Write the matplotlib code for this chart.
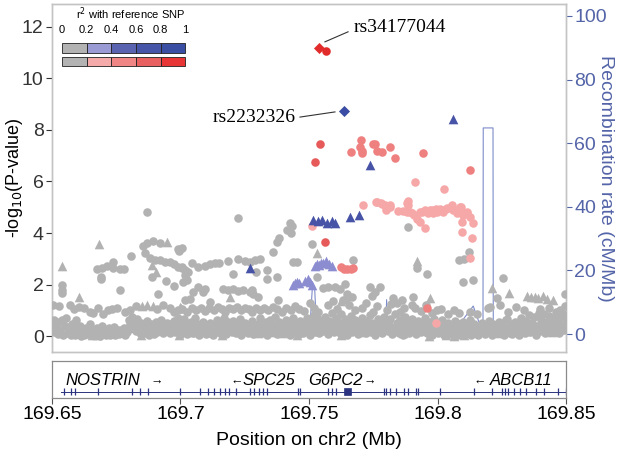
import numpy as np
import matplotlib
matplotlib.use("Agg")
import matplotlib.pyplot as plt
from matplotlib.patches import Rectangle

plt.rcParams['font.family'] = ['Liberation Sans', 'DejaVu Sans']

# ---- data (Mb, -log10 P) ----
lead_red = (169.7539, 11.18)      # rs34177044
lead_blue = (169.7636, 8.74)      # rs2232326

red_top = [(169.7566, 11.07)]
red_08 = [(169.7543, 7.46), (169.7523, 6.76), (169.7562, 3.65)]
red_06 = [(169.7663, 7.15), (169.7702, 7.61), (169.7700, 7.34), (169.7706, 7.18), (169.7706, 7.10),
          (169.7749, 7.46), (169.7757, 7.46), (169.7765, 7.18), (169.7784, 7.15), (169.7815, 7.34),
          (169.7835, 6.91), (169.7944, 7.10), (169.8125, 6.45),
          (169.7624, 2.68), (169.7635, 2.62), (169.7648, 2.60), (169.7662, 2.60), (169.7672, 2.66),
          (169.7959, 1.09)]
red_04 = [(169.7710, 5.09), (169.7765, 5.20), (169.7784, 5.13), (169.7800, 5.00), (169.7815, 5.09),
          (169.7800, 4.89), (169.7846, 4.85), (169.7866, 4.85), (169.7885, 5.24), (169.7885, 5.09),
          (169.7880, 4.82), (169.7900, 4.78), (169.7910, 4.70), (169.7920, 4.54), (169.7932, 4.43),
          (169.7951, 4.19), (169.7940, 4.82), (169.7963, 4.78), (169.7978, 4.89), (169.7982, 4.78),
          (169.7998, 4.82), (169.8010, 4.93), (169.8021, 4.82), (169.8037, 4.97), (169.8056, 5.09),
          (169.8060, 4.89), (169.8076, 4.78), (169.8088, 5.00), (169.8095, 4.82), (169.8100, 4.70),
          (169.8115, 4.78), (169.8127, 4.62), (169.8095, 4.43), (169.8138, 4.39), (169.8095, 4.04),
          (169.8134, 3.80), (169.8127, 3.03), (169.7512, 4.27), (169.7912, 5.98), (169.8025, 5.71),
          (169.7994, 0.50), (169.7761, 5.22), (169.7779, 5.18), (169.7796, 5.09), (169.7815, 5.02),
          (169.7882, 5.15), (169.7893, 4.82), (169.7932, 4.82), (169.7951, 4.89), (169.7970, 4.91),
          (169.7996, 4.95), (169.8016, 4.89), (169.8035, 4.95), (169.8054, 5.02), (169.8074, 4.91),
          (169.8093, 4.99), (169.8113, 4.82), (169.8099, 4.70)]

blue_tri = [(169.8060, 8.43), (169.7737, 6.64), (169.7270, 2.64), (169.7516, 4.50), (169.7535, 4.45),
            (169.7551, 4.50), (169.7570, 4.40), (169.7588, 4.45), (169.7603, 4.40), (169.7660, 4.62),
            (169.7693, 4.70)]
purple_tri = [(169.7438, 2.00), (169.7445, 2.05), (169.7453, 2.10), (169.7461, 2.05), (169.7485, 2.15),
              (169.7496, 2.20), (169.7505, 2.10), (169.7512, 2.00), (169.7523, 2.70), (169.7531, 2.80),
              (169.7539, 2.75), (169.7547, 2.85), (169.7555, 2.85), (169.7566, 2.90), (169.7578, 2.80),
              (169.7590, 2.70)]

gray_high = [(169.6868, 4.83), (169.6538, 1.98), (169.6538, 1.79), (169.6538, 1.67), (169.6674, 2.59),
             (169.6693, 2.63), (169.6713, 2.72), (169.6739, 2.89), (169.6739, 2.63), (169.6765, 2.59),
             (169.6780, 2.59), (169.6690, 2.29), (169.6692, 2.21), (169.6765, 1.79), (169.6807, 3.11),
             (169.6853, 3.50), (169.6868, 3.62), (169.6892, 3.69), (169.6920, 3.62), (169.6862, 3.21),
             (169.6881, 3.02), (169.6901, 2.95), (169.6920, 2.95), (169.6940, 2.89), (169.6959, 2.89),
             (169.6975, 2.80), (169.6991, 2.69), (169.7005, 2.63), (169.6990, 3.36), (169.6993, 3.30),
             (169.6888, 2.30), (169.6944, 2.15), (169.6975, 1.94), (169.6914, 1.63), (169.7011, 2.11),
             (169.7225, 4.57), (169.7426, 4.38), (169.7433, 4.27), (169.7413, 4.12), (169.7429, 3.99),
             (169.7385, 3.79), (169.7374, 3.66), (169.7359, 3.27), (169.7439, 2.89), (169.7454, 2.89),
             (169.7510, 3.57), (169.7005, 3.40), (169.7044, 2.82), (169.7069, 2.69), (169.7095, 2.72),
             (169.7115, 2.80), (169.7134, 2.85), (169.7151, 2.82), (169.7186, 2.92), (169.7225, 2.98),
             (169.7251, 2.92), (169.7270, 2.89), (169.7290, 2.95), (169.7309, 2.98), (169.7005, 2.69),
             (169.7018, 2.56), (169.7030, 2.50), (169.7018, 2.37), (169.7024, 2.17), (169.7205, 2.41),
             (169.7294, 2.50), (169.7338, 2.56), (169.7338, 2.20), (169.7377, 2.28), (169.7069, 1.89),
             (169.7050, 1.72), (169.7089, 1.72), (169.7095, 1.81), (169.7167, 1.81), (169.7186, 1.79),
             (169.7205, 1.81), (169.7225, 1.76), (169.7244, 1.79), (169.7270, 1.72), (169.7283, 1.63),
             (169.7303, 1.50), (169.7277, 1.79), (169.7018, 1.40), (169.7037, 1.42), (169.7381, 1.40),
             (169.7115, 1.33), (169.7886, 4.22), (169.7672, 2.95), (169.7922, 2.63), (169.7960, 2.41),
             (169.7532, 2.28), (169.7553, 1.85), (169.7575, 1.89), (169.7601, 1.92), (169.7621, 1.81),
             (169.7640, 2.02), (169.7647, 1.63), (169.7737, 1.92), (169.7776, 1.89), (169.7757, 1.72),
             (169.7744, 1.55), (169.7647, 1.46), (169.7634, 1.40), (169.7666, 1.50), (169.7828, 1.46),
             (169.7844, 1.29), (169.7861, 1.40), (169.7906, 1.53), (169.7900, 1.20), (169.7912, 1.07),
             (169.7997, 1.01), (169.8124, 3.27), (169.8103, 2.98), (169.8085, 2.95), (169.8100, 2.11),
             (169.8139, 2.17), (169.8256, 2.24), (169.8231, 1.46), (169.8205, 1.14), (169.8245, 1.20),
             (169.8307, 1.11), (169.8496, 1.63)]

gray_mid = [(169.6505, 1.20), (169.6528, 1.15), (169.6570, 1.20), (169.6585, 1.05), (169.6605, 1.12),
            (169.6625, 1.08), (169.6648, 0.95), (169.6661, 0.90), (169.6680, 1.10), (169.6700, 0.85),
            (169.6716, 1.00), (169.6733, 1.05), (169.6752, 1.10), (169.6784, 0.95), (169.6803, 1.00),
            (169.6825, 1.15), (169.6907, 1.05), (169.6933, 1.20), (169.6959, 1.10), (169.6975, 0.95),
            (169.6991, 1.00), (169.7005, 1.05), (169.7025, 0.95), (169.7045, 1.10), (169.7060, 1.00),
            (169.7080, 1.08), (169.7095, 0.98), (169.7110, 1.10), (169.7130, 1.02), (169.7145, 1.12),
            (169.7160, 1.05), (169.7175, 0.95), (169.7190, 1.10), (169.7205, 1.05), (169.7220, 1.12),
            (169.7235, 1.00), (169.7250, 1.08), (169.7265, 1.05), (169.7280, 0.95), (169.7295, 1.10),
            (169.7310, 1.02), (169.7325, 1.08), (169.7340, 1.00), (169.7360, 1.12), (169.7375, 1.05),
            (169.7395, 0.92), (169.7410, 1.10), (169.7430, 1.00), (169.7445, 1.15), (169.7460, 1.05),
            (169.7480, 0.98), (169.7505, 1.30), (169.7520, 1.10), (169.7535, 0.95), (169.7575, 1.20),
            (169.7595, 1.35), (169.7610, 1.05), (169.7655, 1.20), (169.7680, 1.00), (169.7705, 1.10),
            (169.7720, 1.30), (169.7750, 0.95), (169.7765, 1.15), (169.7805, 1.00), (169.7820, 1.25),
            (169.7855, 0.95), (169.7870, 1.10), (169.7935, 0.98), (169.7955, 1.20), (169.7980, 0.90),
            (169.8015, 1.05), (169.8040, 0.85), (169.8065, 1.00), (169.8085, 0.90), (169.8125, 0.95),
            (169.8155, 0.85), (169.8195, 1.10), (169.8275, 0.95), (169.8335, 1.00), (169.8400, 1.05),
            (169.8435, 1.10), (169.8475, 1.00), (169.8495, 1.15)]

gray_low = [
    (169.6503, 0.35), (169.6507, 0.62), (169.6511, 0.15), (169.6516, 0.48), (169.6522, 0.08), (169.6528, 0.55),
    (169.6533, 0.25), (169.6539, 0.62), (169.6544, 0.05), (169.6549, 0.40), (169.6554, 0.70), (169.6561, 0.12),
    (169.6566, 0.32), (169.6572, 0.05), (169.6578, 0.45), (169.6583, 0.20), (169.6589, 0.03), (169.6595, 0.62),
    (169.6598, 0.28), (169.6603, 0.10), (169.6609, 0.40), (169.6614, 0.02), (169.6620, 0.22), (169.6626, 0.05),
    (169.6632, 0.33), (169.6638, 0.08), (169.6643, 0.15), (169.6648, 0.45), (169.6652, 0.04), (169.6658, 0.25),
    (169.6663, 0.10), (169.6669, 0.05), (169.6674, 0.30), (169.6679, 0.12), (169.6685, 0.02), (169.6690, 0.18),
    (169.6696, 0.40), (169.6699, 0.08), (169.6704, 0.22), (169.6709, 0.05), (169.6714, 0.14), (169.6720, 0.30),
    (169.6725, 0.06), (169.6730, 0.20), (169.6736, 0.10), (169.6741, 0.35), (169.6747, 0.04), (169.6752, 0.18),
    (169.6757, 0.25), (169.6762, 0.08), (169.6768, 0.22), (169.6773, 0.12), (169.6779, 0.30), (169.6784, 0.05),
    (169.6790, 0.15), (169.6795, 0.28), (169.6799, 0.62), (169.6805, 0.45), (169.6810, 0.75), (169.6815, 0.30),
    (169.6820, 0.55), (169.6826, 0.18), (169.6831, 0.68), (169.6836, 0.35), (169.6842, 0.10), (169.6847, 0.52),
    (169.6852, 0.25), (169.6858, 0.40), (169.6863, 0.12), (169.6868, 0.60), (169.6873, 0.30), (169.6879, 0.05),
    (169.6884, 0.45), (169.6890, 0.20), (169.6895, 0.08), (169.6900, 0.35), (169.6905, 0.55), (169.6910, 0.15),
    (169.6916, 0.40), (169.6921, 0.25), (169.6926, 0.62), (169.6932, 0.10), (169.6937, 0.38), (169.6942, 0.20),
    (169.6947, 0.50), (169.6953, 0.30), (169.6958, 0.10), (169.6963, 0.45), (169.6968, 0.25), (169.6974, 0.60),
    (169.6979, 0.15), (169.6984, 0.40), (169.6990, 0.70), (169.6995, 0.30), (169.6999, 0.05), (169.7004, 0.50),
    (169.7010, 0.20), (169.7015, 0.65), (169.7020, 0.35), (169.7026, 0.08), (169.7031, 0.45), (169.7036, 0.25),
    (169.7042, 0.55), (169.7047, 0.12), (169.7052, 0.38), (169.7057, 0.70), (169.7062, 0.20), (169.7068, 0.45),
    (169.7073, 0.05), (169.7078, 0.30), (169.7084, 0.15), (169.7089, 0.55), (169.7094, 0.25), (169.7099, 0.08),
    (169.7104, 0.35), (169.7110, 0.12), (169.7115, 0.50), (169.7120, 0.22), (169.7125, 0.05), (169.7131, 0.40),
    (169.7136, 0.18), (169.7141, 0.62), (169.7146, 0.28), (169.7152, 0.10), (169.7157, 0.45), (169.7162, 0.20),
    (169.7168, 0.70), (169.7173, 0.32), (169.7178, 0.08), (169.7184, 0.55), (169.7189, 0.25), (169.7194, 0.40),
    (169.7199, 0.15), (169.7204, 0.60), (169.7210, 0.30), (169.7215, 0.12), (169.7220, 0.48), (169.7226, 0.22),
    (169.7231, 0.65), (169.7236, 0.05), (169.7242, 0.38), (169.7247, 0.18), (169.7252, 0.52), (169.7257, 0.28),
    (169.7263, 0.10), (169.7268, 0.42), (169.7273, 0.20), (169.7279, 0.60), (169.7284, 0.08), (169.7289, 0.35),
    (169.7295, 0.15), (169.7300, 0.48), (169.7305, 0.25), (169.7311, 0.70), (169.7316, 0.10), (169.7321, 0.38),
    (169.7327, 0.20), (169.7332, 0.55), (169.7337, 0.05), (169.7343, 0.30), (169.7348, 0.62), (169.7353, 0.15),
    (169.7359, 0.42), (169.7364, 0.25), (169.7369, 0.75), (169.7375, 0.08), (169.7380, 0.35), (169.7385, 0.55),
    (169.7391, 0.18), (169.7396, 0.45), (169.7401, 0.10), (169.7407, 0.30), (169.7412, 0.62), (169.7417, 0.20),
    (169.7423, 0.45), (169.7428, 0.05), (169.7433, 0.35), (169.7439, 0.70), (169.7444, 0.15), (169.7449, 0.50),
    (169.7455, 0.25), (169.7460, 0.08), (169.7465, 0.60), (169.7471, 0.32), (169.7476, 0.12), (169.7481, 0.48),
    (169.7487, 0.20), (169.7492, 0.70), (169.7497, 0.38), (169.7502, 0.05), (169.7508, 0.55), (169.7513, 0.25),
    (169.7518, 0.80), (169.7524, 0.15), (169.7529, 0.42), (169.7534, 0.65), (169.7540, 0.10), (169.7545, 0.30),
    (169.7550, 0.55), (169.7556, 0.20), (169.7561, 0.75), (169.7566, 0.40), (169.7572, 0.08), (169.7577, 0.60),
    (169.7582, 0.25), (169.7588, 0.90), (169.7593, 0.45), (169.7598, 0.15), (169.7604, 0.70), (169.7609, 0.30),
    (169.7614, 0.55), (169.7620, 0.10), (169.7625, 0.85), (169.7630, 0.40), (169.7636, 0.22), (169.7641, 0.65),
    (169.7646, 0.05), (169.7652, 0.50), (169.7657, 0.30), (169.7662, 0.78), (169.7668, 0.15), (169.7673, 0.45),
    (169.7678, 0.62), (169.7684, 0.25), (169.7689, 0.08), (169.7694, 0.55), (169.7699, 0.35), (169.7705, 0.70),
    (169.7710, 0.20), (169.7715, 0.45), (169.7721, 0.10), (169.7726, 0.60), (169.7731, 0.30), (169.7737, 0.82),
    (169.7742, 0.15), (169.7747, 0.50), (169.7753, 0.28), (169.7758, 0.05), (169.7763, 0.40), (169.7769, 0.65),
    (169.7774, 0.20), (169.7779, 0.48), (169.7785, 0.12), (169.7790, 0.75), (169.7795, 0.35), (169.7801, 0.55),
    (169.7806, 0.18), (169.7811, 0.42), (169.7817, 0.68), (169.7822, 0.08), (169.7827, 0.30), (169.7833, 0.85),
    (169.7838, 0.22), (169.7843, 0.50), (169.7849, 0.12), (169.7854, 0.62), (169.7859, 0.35), (169.7865, 0.05),
    (169.7870, 0.45), (169.7875, 0.72), (169.7881, 0.20), (169.7886, 0.55), (169.7891, 0.10), (169.7897, 0.38),
    (169.7902, 0.65), (169.7907, 0.25), (169.7913, 0.45), (169.7918, 0.08), (169.7923, 0.58), (169.7929, 0.30),
    (169.7934, 0.15), (169.7939, 0.50), (169.7945, 0.22), (169.7950, 0.70), (169.7955, 0.35), (169.7961, 0.12),
    (169.7966, 0.55), (169.7971, 0.25), (169.7977, 0.05), (169.7982, 0.40), (169.7987, 0.68), (169.7993, 0.20),
    (169.7998, 0.30), (169.8003, 0.10), (169.8009, 0.45), (169.8014, 0.22), (169.8019, 0.62), (169.8025, 0.05),
    (169.8030, 0.35), (169.8035, 0.15), (169.8041, 0.50), (169.8046, 0.28), (169.8051, 0.08), (169.8057, 0.40),
    (169.8062, 0.18), (169.8067, 0.60), (169.8073, 0.30), (169.8078, 0.05), (169.8083, 0.45), (169.8089, 0.22),
    (169.8094, 0.12), (169.8099, 0.55), (169.8105, 0.28), (169.8110, 0.08), (169.8115, 0.40), (169.8121, 0.15),
    (169.8126, 0.62), (169.8131, 0.05), (169.8137, 0.30), (169.8142, 0.45), (169.8147, 0.10), (169.8153, 0.22),
    (169.8158, 0.05), (169.8163, 0.35), (169.8169, 0.15), (169.8174, 0.50), (169.8179, 0.25), (169.8185, 0.08),
    (169.8190, 0.40), (169.8195, 0.18), (169.8201, 0.60), (169.8206, 0.30), (169.8211, 0.05), (169.8217, 0.45),
    (169.8222, 0.22), (169.8227, 0.12), (169.8233, 0.35), (169.8238, 0.55), (169.8243, 0.10), (169.8249, 0.28),
    (169.8254, 0.42), (169.8259, 0.05), (169.8265, 0.20), (169.8270, 0.65), (169.8275, 0.32), (169.8281, 0.12),
    (169.8286, 0.48), (169.8291, 0.08), (169.8297, 0.25), (169.8302, 0.55), (169.8307, 0.15), (169.8313, 0.38),
    (169.8318, 0.05), (169.8323, 0.70), (169.8329, 0.22), (169.8334, 0.45), (169.8339, 0.10), (169.8345, 0.60),
    (169.8350, 0.30), (169.8355, 0.82), (169.8361, 0.15), (169.8366, 0.50), (169.8371, 0.25), (169.8377, 0.72),
    (169.8382, 0.05), (169.8387, 0.40), (169.8393, 0.90), (169.8398, 0.20), (169.8403, 0.62), (169.8409, 0.35),
    (169.8414, 0.85), (169.8419, 0.10), (169.8425, 0.55), (169.8430, 0.28), (169.8435, 0.78), (169.8441, 0.45),
    (169.8446, 0.15), (169.8451, 0.68), (169.8457, 0.30), (169.8462, 0.92), (169.8467, 0.50), (169.8473, 0.12),
    (169.8478, 0.75), (169.8483, 0.38), (169.8489, 0.85), (169.8494, 0.22), (169.8499, 0.60)]

gray_tri = [(169.6684, 3.57), (169.6538, 2.72), (169.6606, 1.53), (169.6949, 3.65), (169.6888, 2.76),
            (169.6905, 2.50), (169.7532, 3.21), (169.7919, 2.92), (169.7193, 1.50), (169.7623, 1.37),
            (169.7971, 1.46), (169.8211, 1.85), (169.8279, 1.68), (169.8350, 1.55), (169.8363, 1.50),
            (169.8380, 1.50), (169.8392, 1.46), (169.8412, 1.55), (169.8425, 1.42), (169.8451, 1.40),
            (169.6849, 1.15), (169.6868, 1.20), (169.6894, 1.15), (169.7001, 1.10), (169.6998, 1.14),
            (169.6510, 0.20), (169.6555, 0.15), (169.6580, 0.35), (169.6615, 0.10), (169.6640, 0.25),
            (169.6655, 0.05), (169.6675, 0.05), (169.6595, 0.45), (169.6845, 0.05), (169.6995, 0.05),
            (169.7050, 0.15), (169.7095, 0.30), (169.7160, 0.05), (169.7225, 0.20), (169.7300, 0.10),
            (169.7335, 0.20), (169.7365, 0.15), (169.7395, 0.10), (169.7425, 0.20), (169.7455, 0.05),
            (169.7520, 0.40), (169.7565, 0.60), (169.7625, 0.05), (169.7660, 0.25), (169.7705, 0.15),
            (169.7865, 0.10), (169.7965, 0.02), (169.8035, 0.05), (169.8065, 0.02), (169.8105, 0.05),
            (169.8215, 0.20), (169.8245, 0.10), (169.8255, 0.60), (169.8290, 0.35), (169.8315, 0.45),
            (169.8345, 0.20), (169.8410, 0.30), (169.8445, 0.15), (169.8470, 0.25)]

# recombination rate (cM/Mb)
recomb = [(169.6500, 1.5), (169.6515, 2.0), (169.6535, 3.5), (169.6555, 2.5), (169.6570, 0.8),
          (169.6800, 0.5), (169.6935, 0.3), (169.7015, 1.2), (169.7035, 1.0), (169.7055, 5.0),
          (169.7065, 1.5), (169.7120, 1.0), (169.7205, 0.8), (169.7280, 1.5), (169.7350, 2.0),
          (169.7420, 3.0), (169.7480, 2.5), (169.7505, 4.0), (169.7513, 14.5), (169.7522, 14.5),
          (169.7528, 4.0), (169.7560, 2.5), (169.7600, 3.0), (169.7620, 1.5), (169.7720, 1.5),
          (169.7750, 2.0), (169.7799, 2.0), (169.7802, 10.8), (169.7806, 1.0), (169.7900, 1.5),
          (169.8000, 0.8), (169.8050, 2.0), (169.8085, 3.0), (169.8139, 8.8), (169.8160, 4.0),
          (169.8172, 2.0), (169.8177, 1.5), (169.8178, 64.8), (169.8216, 64.8), (169.8217, 2.0),
          (169.8245, 1.5), (169.8350, 1.0), (169.8500, 1.0)]

# genes
gene_names = ["NOSTRIN", "SPC25", "G6PC2", "ABCB11"]
gene_exons = [169.6547, 169.6575, 169.6590, 169.6679, 169.6811, 169.6842, 169.6874, 169.6998, 169.7076,
              169.7107, 169.7130, 169.7154, 169.7172, 169.7188, 169.7216, 169.7270, 169.7286, 169.7306,
              169.7322, 169.7337, 169.7457, 169.7465, 169.7574, 169.7590, 169.7605, 169.7792, 169.7800,
              169.7815, 169.7838, 169.7870, 169.7885, 169.7916, 169.7924, 169.8010, 169.8142, 169.8212,
              169.8251, 169.8262, 169.8274, 169.8298, 169.8321, 169.8344, 169.8383, 169.8414, 169.8469,
              169.8500]
g6pc2_block = (169.7636, 169.7663)

legend_ticks = ["0", "0.2", "0.4", "0.6", "0.8", "1"]
blue_cols = ['#b3b3b3', '#9a9ad4', '#5a63b0', '#4755a8', '#3a4ea3']
red_cols = ['#b3b3b3', '#f6abab', '#ef8585', '#e86060', '#e83535']

GRAY = '#b2b2b2'
BLUE_TXT = '#5464a8'

fig = plt.figure(figsize=(6.25, 4.63), dpi=100)
ax = fig.add_axes([0.0832, 0.2397, 0.8224, 0.7517])
ax2 = ax.twinx()
gax = fig.add_axes([0.0832, 0.1404, 0.8224, 0.0799])

ax.set_zorder(ax2.get_zorder() + 1)
ax.patch.set_visible(False)

rx, ry = zip(*recomb)
ax2.plot(rx, ry, color='#7d8cca', lw=0.8)

def pts(data, marker, color, s, z=3):
    x, y = zip(*data)
    ax.scatter(x, y, marker=marker, s=s, color=color, linewidths=0, zorder=z)

pts(gray_low, 'o', GRAY, 38)
pts(gray_mid, 'o', GRAY, 38)
pts(gray_high, 'o', GRAY, 38)
pts(gray_tri, '^', GRAY, 48)
pts(red_04, 'o', '#f6a8a8', 38, 4)
pts(red_06, 'o', '#ef8080', 38, 4)
pts(red_08, 'o', '#e65a5a', 38, 4)
pts(red_top, 'o', '#e22c2c', 38, 5)
pts(purple_tri, '^', '#8c8cd0', 48, 4)
pts(blue_tri, '^', '#4653a6', 48, 4)
ax.scatter(*lead_red, marker='D', s=32, color='#e22c2c', linewidths=0, zorder=6)
ax.scatter(*lead_blue, marker='D', s=32, color='#3a4ca3', linewidths=0, zorder=6)

ax.plot([169.7562, 169.7652], [11.42, 11.81], color='#333333', lw=0.8)
ax.text(169.7672, 11.96, "rs34177044", family='Liberation Serif', fontsize=14, va='center', ha='left')
ax.plot([169.7465, 169.7601], [8.5, 8.7], color='#333333', lw=0.8)
ax.text(169.7447, 8.5, "rs2232326", family='Liberation Serif', fontsize=14, va='center', ha='right')

ax.set_xlim(169.65, 169.85)
ax.set_ylim(-0.62, 12.89)
ax2.set_ylim(-5.66, 103.77)
ax.set_yticks(range(0, 13, 2))
ax.set_xticks([])
ax.tick_params(axis='y', labelsize=14, colors='#333333', length=4, width=0.8, pad=2)
ax2.set_yticks(range(0, 101, 20))
ax2.tick_params(axis='y', labelsize=14, colors=BLUE_TXT, length=4, width=0.8, pad=2)
for a in (ax, ax2):
    for sp in a.spines.values():
        sp.set_color('#c4c4c4')
        sp.set_linewidth(1.0)
ax.set_ylabel('-log$_{10}$(P-value)', fontsize=13, va='center')
ax.yaxis.set_label_coords(-0.072, 0.5)
ax2.set_ylabel('Recombination rate (cM/Mb)', fontsize=14, color=BLUE_TXT, rotation=270, va='center')
ax2.yaxis.set_label_coords(1.076, 0.5)

# r^2 legend
tr = ax.transAxes
x0, w = 0.0195, 0.0479
for i in range(5):
    ax.add_patch(Rectangle((x0 + i * w, 0.859), w, 0.029, transform=tr, facecolor=blue_cols[i],
                           edgecolor='#222222', lw=0.6, zorder=7))
    ax.add_patch(Rectangle((x0 + i * w, 0.822), w, 0.026, transform=tr, facecolor=red_cols[i],
                           edgecolor='#222222', lw=0.6, zorder=7))
for i, t in enumerate(legend_ticks):
    ax.text(x0 + i * w, 0.925, t, transform=tr, fontsize=8, ha='center', va='center')
ax.text(0.154, 0.971, "r$^2$ with reference SNP", transform=tr, fontsize=8, ha='center', va='center')

# gene panel
gax.set_xlim(169.65, 169.85)
gax.set_ylim(0, 1)
gax.set_yticks([])
gax.set_xticks([169.65, 169.7, 169.75, 169.8, 169.85])
gax.set_xticklabels(['169.65', '169.7', '169.75', '169.8', '169.85'])
gax.tick_params(axis='x', labelsize=14, length=4, width=0.8, color='#555555', pad=2)
for sp in gax.spines.values():
    sp.set_color('#8a8a8a')
    sp.set_linewidth(0.9)
gc = '#2b3380'
gax.plot([169.6535, 169.85], [0.17, 0.17], color=gc, lw=0.7)
gax.vlines(gene_exons, 0.08, 0.26, color=gc, lw=0.9)
gax.add_patch(Rectangle((g6pc2_block[0], 0.08), g6pc2_block[1] - g6pc2_block[0], 0.18,
                        facecolor=gc, edgecolor=gc, lw=0.5))
fam = ['Liberation Sans', 'DejaVu Sans']
gax.text(169.6554, 0.47, gene_names[0], style='italic', fontsize=12, va='center', family=fam)
gax.text(169.6885, 0.45, "\u2192", fontsize=9, va='center', family=fam)
gax.text(169.7193, 0.45, "\u2190", fontsize=9, va='center', family=fam)
gax.text(169.7240, 0.47, gene_names[1], style='italic', fontsize=12, va='center', family=fam)
gax.text(169.7496, 0.47, gene_names[2], style='italic', fontsize=12, va='center', family=fam)
gax.text(169.7714, 0.45, "\u2192", fontsize=9, va='center', family=fam)
gax.text(169.8140, 0.45, "\u2190", fontsize=9, va='center', family=fam)
gax.text(169.8205, 0.47, gene_names[3], style='italic', fontsize=12, va='center', family=fam)
gax.set_xlabel('Position on chr2 (Mb)', fontsize=14, labelpad=6)

fig.savefig('out.png', dpi=100)
